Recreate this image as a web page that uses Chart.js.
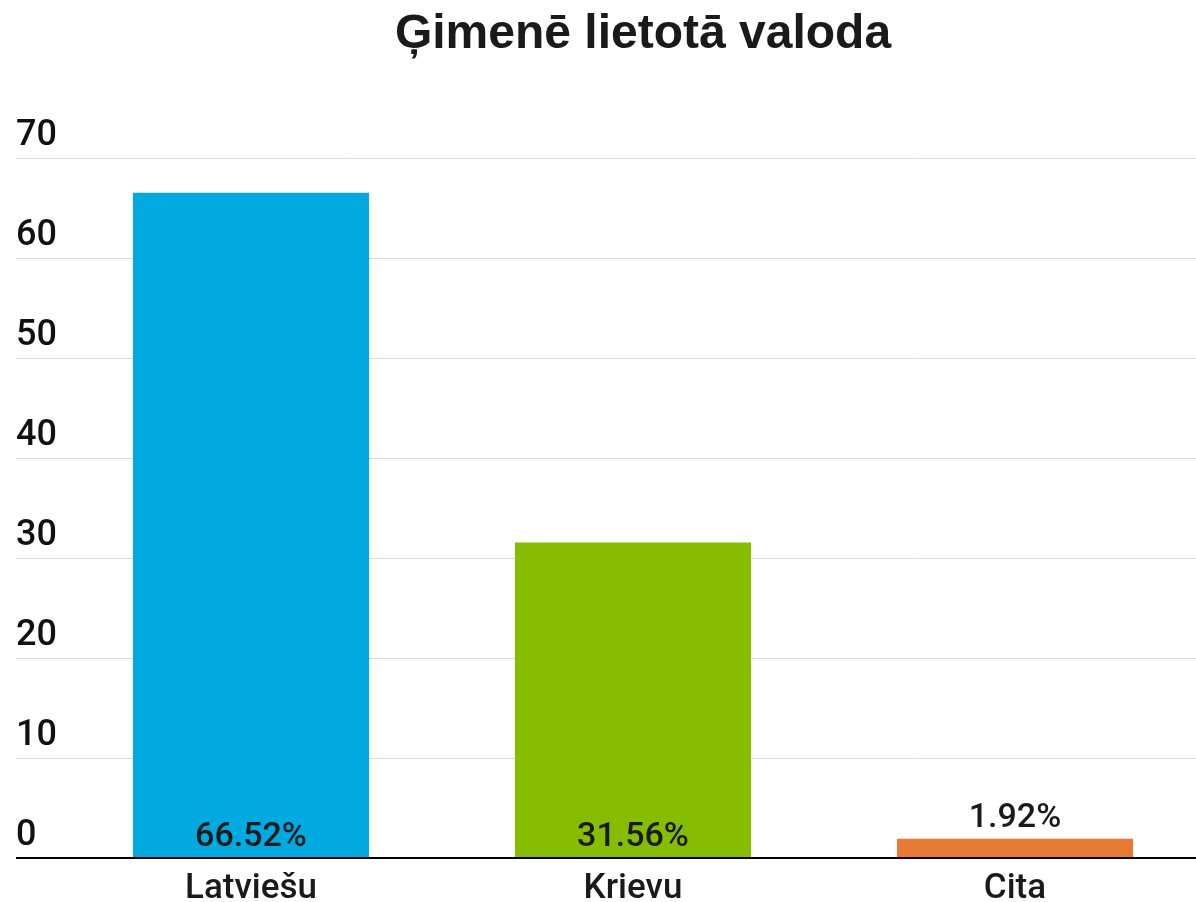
<!DOCTYPE html>
<html>
<head>
<meta charset="utf-8">
<script src="https://cdn.jsdelivr.net/npm/chart.js@4"></script>
<style>
  html, body { margin: 0; padding: 0; background: #fff; overflow: hidden; }
  #wrap { width: 1206px; height: 902px; position: relative; }
</style>
</head>
<body>
<div id="wrap"><canvas id="langChart"></canvas></div>
<script>
const titleText = 'Ģimenē lietotā valoda';
const languages = ['Latviešu', 'Krievu', 'Cita'];
const shares = [66.52, 31.56, 1.92];
const barColors = ['#00A9E0', '#86BD00', '#E87A34'];
const yTicks = [0, 10, 20, 30, 40, 50, 60, 70];

// title drawn by hand so it can sit centred on the visible page
const pageTitle = {
  id: 'pageTitle',
  afterDraw(chart) {
    const ctx = chart.ctx;
    ctx.save();
    ctx.font = 'bold 48px "Liberation Sans", Arial, sans-serif';
    ctx.fillStyle = '#1a1a1a';
    ctx.textAlign = 'center';
    ctx.textBaseline = 'alphabetic';
    ctx.fillText(titleText, 643, 48);
    ctx.restore();
  }
};

// percent labels: inside at the base for tall bars, above for short ones
const valueLabels = {
  id: 'valueLabels',
  afterDatasetsDraw(chart) {
    const ctx = chart.ctx;
    const meta = chart.getDatasetMeta(0);
    ctx.save();
    ctx.font = '500 34px Roboto';
    ctx.fillStyle = '#1a1a1a';
    ctx.textAlign = 'center';
    ctx.textBaseline = 'alphabetic';
    meta.data.forEach(function (bar, i) {
      const txt = shares[i].toFixed(2) + '%';
      const h = bar.base - bar.y;
      const y = h > 50 ? bar.base - 11 : bar.y - 12;
      ctx.fillText(txt, bar.x, y);
    });
    ctx.restore();
  }
};

const ctx = document.getElementById('langChart').getContext('2d');
const myChart = new Chart(ctx, {
    type: 'bar',
    data: {
        labels: languages,
        datasets: [{
            label: titleText,
            data: shares,
            backgroundColor: barColors,
            borderWidth: 0,
            categoryPercentage: 1,
            barPercentage: 0.618
        }]
    },
    options: {
        responsive: true,
        maintainAspectRatio: false,
        animation: false,
        layout: { padding: { left: 16, right: 0, top: 158, bottom: 0 } },
        plugins: {
            legend: { display: false },
            tooltip: { enabled: false },
            title: { display: false }
        },
        scales: {
            x: {
                grid: { display: false },
                border: { display: false },
                ticks: {
                    color: '#1a1a1a',
                    font: { family: 'Roboto', size: 35, weight: 500 },
                    padding: 2
                },
                afterFit: function (s) { s.height = 44; }
            },
            y: {
                min: 0,
                max: 70,
                afterBuildTicks: function (s) { s.ticks = yTicks.map(v => ({ value: v })); },
                afterFit: function (s) { s.width = 44; },
                border: { display: false },
                grid: {
                    color: c => c.tick && c.tick.value === 0 ? '#000' : '#d9d9d9',
                    tickColor: c => c.tick && c.tick.value === 0 ? '#000' : '#d9d9d9',
                    lineWidth: c => c.tick && c.tick.value === 0 ? 2 : 1,
                    tickLength: 44
                },
                ticks: {
                    mirror: true,
                    padding: -44,
                    labelOffset: -22,
                    color: '#111',
                    font: { family: 'Roboto', size: 36, weight: 500 }
                }
            }
        }
    },
    plugins: [valueLabels, pageTitle]
});
</script>
</body>
</html>
